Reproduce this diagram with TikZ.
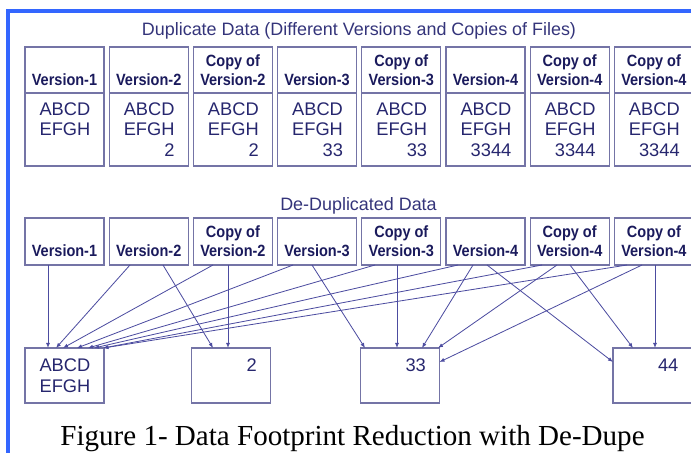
\documentclass[tikz,border=0pt]{standalone}
\usepackage{fontspec}
\setmainfont{Liberation Serif}
\newfontfamily\arialfont{Liberation Sans}
\newfontfamily\narrowfont[FakeStretch=0.89]{Liberation Sans}
\usetikzlibrary{arrows.meta}

\definecolor{framec}{HTML}{3366FF}
\definecolor{cellc}{HTML}{7474A6}
\definecolor{inkc}{HTML}{1A1A5C}
\definecolor{datac}{HTML}{26266E}
\definecolor{titlec}{HTML}{34347A}
\definecolor{linkc}{HTML}{4C4CA0}

% primera línea vacía de una cabecera, misma altura que "Copy of"
\newcommand{\noline}{\vphantom{Copy of}}

\tikzset{
  cell/.style={draw=cellc, line width=0.95pt, minimum width=2.37cm,
    inner sep=0pt, outer sep=0pt, text=inkc},
  hdr/.style={cell, minimum height=1.38cm, align=center,
    font={\fontsize{13.9}{16.2}\selectfont\narrowfont\bfseries}},
  vhdr/.style={hdr, minimum height=1.41cm},
  body/.style={cell, minimum height=2.19cm, text width=1.55cm, align=right,
    text=datac, font={\fontsize{15.6}{17.7}\selectfont\arialfont}},
  chunk/.style={body, minimum height=1.65cm},
  title/.style={anchor=base, text=titlec,
    font={\fontsize{15.3}{18}\selectfont\arialfont}},
  arr/.style={draw=linkc, line width=0.7pt, -{Latex[length=4.3pt,width=3.4pt]}}
}

\begin{document}
\begin{tikzpicture}[x=0.03cm, y=-0.03cm]
    \useasboundingbox (0,0) rectangle (691,453);

    % Marco: lados izquierdo y superior
    \draw[framec, line width=0.12cm] (8,453) -- (8,11) -- (691,11);

    % Fila superior: cada fichero con su contenido completo
    \node[title] (dupl) at (359,36) {Duplicate Data (Different Versions and Copies of Files)};
    \foreach \i/\x/\name/\data in {
        1/64.5/{\noline\\Version-1}/{ABCD\\EFGH\\\mbox{}},
        2/148.7/{\noline\\Version-2}/{ABCD\\EFGH\\2},
        3/232.9/{Copy of\\Version-2}/{ABCD\\EFGH\\2},
        4/317.1/{\noline\\Version-3}/{ABCD\\EFGH\\33},
        5/401.3/{Copy of\\Version-3}/{ABCD\\EFGH\\33},
        6/485.5/{\noline\\Version-4}/{ABCD\\EFGH\\3344},
        7/569.7/{Copy of\\Version-4}/{ABCD\\EFGH\\3344},
        8/653.9/{Copy of\\Version-4}/{ABCD\\EFGH\\3344}} {
      \node[hdr] (h\i) at (\x,70) {\name};
      \node[body, anchor=north] (b\i) at (h\i.south) {\data};
    }

    % Fila inferior: solo referencias a bloques compartidos
    \node[title] (dedup) at (358.5,211) {De-Duplicated Data};
    \foreach \i/\x/\name in {
        1/64.5/{\noline\\Version-1},
        2/148.7/{\noline\\Version-2},
        3/232.9/{Copy of\\Version-2},
        4/317.1/{\noline\\Version-3},
        5/401.3/{Copy of\\Version-3},
        6/485.5/{\noline\\Version-4},
        7/569.7/{Copy of\\Version-4},
        8/653.9/{Copy of\\Version-4}}
      \node[vhdr] (m\i) at (\x,241.5) {\name};

    % Bloques almacenados una sola vez
    \node[chunk] (dA) at (64.5,375.5) {ABCD\\EFGH};
    \node[chunk] (dB) at (231,375.5) {2\\\mbox{}};
    \node[chunk] (dC) at (400,375.5) {33\\\mbox{}};
    \node[chunk] (dD) at (652.5,375.5) {44\\\mbox{}};

    % Flechas al borde superior de cada bloque
    \foreach \s/\sx/\t/\tx in {
        m1/48/dA/48, m2/130/dA/56, m2/163/dB/213,
        m3/213/dA/63, m3/228/dB/228, m4/293/dA/77, m4/312/dC/365,
        m5/375/dA/88, m5/397/dC/397, m6/458/dA/94, m6/473/dC/422,
        m7/542/dA/103, m7/557/dC/438, m7/570/dD/633,
        m8/627/dA/103.5, m8/655/dD/655}
      \draw[arr] (\sx,0 |- \s.south) -- (\tx,0 |- \t.north);

    % Flechas a los bordes laterales
    \foreach \s/\sx/\t/\ty in {m6/487/dD.west/362, m8/642/dC.east/362}
      \draw[arr] (\sx,0 |- \s.south) -- (\t |- 0,\ty);

    % Pie de figura
    \node[anchor=base, font=\fontsize{24.8}{28}\selectfont] (cap) at (352.5,445)
      {Figure 1- Data Footprint Reduction with De-Dupe};
\end{tikzpicture}
\end{document}
